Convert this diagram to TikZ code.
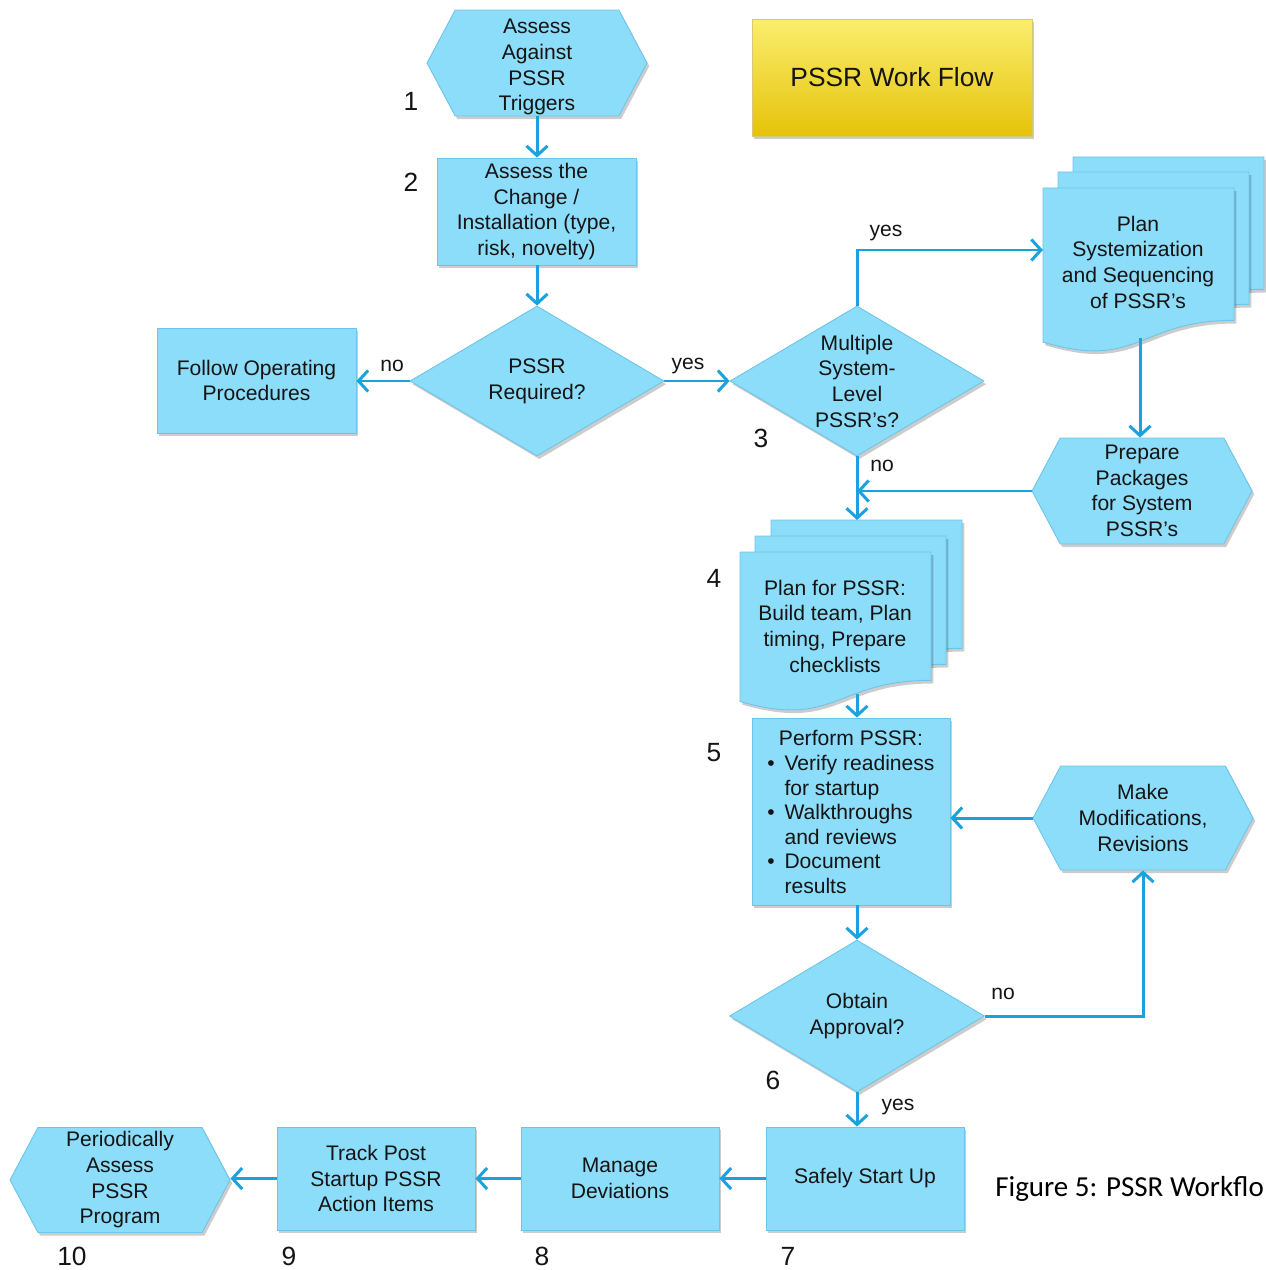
\documentclass[tikz,border=0pt]{standalone}
\usepackage{fontspec}
\setmainfont{Liberation Sans}
\newfontfamily\capfont{Carlito}
\usetikzlibrary{arrows.meta,shapes.geometric,shapes.symbols,shadows}
\definecolor{boxfill}{RGB}{140,221,250}
\definecolor{boxedge}{RGB}{110,196,232}
\definecolor{arrowc}{RGB}{27,161,222}
\definecolor{txtc}{RGB}{20,20,20}
\definecolor{ytop}{RGB}{250,238,110}
\definecolor{ybot}{RGB}{230,195,10}
\definecolor{yedge}{RGB}{215,200,120}
\tikzset{
 shad/.style={drop shadow={shadow xshift=1.3pt, shadow yshift=-1.8pt, opacity=0.2, fill=black}},
 base/.style={fill=boxfill, draw=boxedge, line width=0.5pt, shad, text=txtc, font=\fontsize{12}{14.6}\selectfont, align=center, inner sep=0pt},
 rectbox/.style={base, rectangle, minimum width=3.98cm, minimum height=2.1cm},
 hexbox/.style={base, signal, signal to=west and east, signal pointer angle=124, minimum width=4.4cm, minimum height=2.12cm},
 decbox/.style={base, diamond, aspect=1.69, minimum width=5.08cm, minimum height=3cm},
 docbox/.style={fill=boxfill, draw=boxedge, line width=0.5pt, shad},
 doctext/.style={text=txtc, font=\fontsize{12}{14.6}\selectfont, align=center, inner sep=0pt},
 titlebox/.style={rectangle, top color=ytop, bottom color=ybot, draw=yedge, line width=0.5pt, shad, minimum width=5.6cm, minimum height=2.34cm, text=txtc, font=\fontsize{15}{18}\selectfont, inner sep=0pt},
 conn/.style={draw=arrowc, line width=1.7pt, -{Straight Barb[length=5.5pt,width=12pt]}},
 lbl/.style={text=txtc, font=\fontsize{12}{14.3}\selectfont, inner sep=0pt},
 numlbl/.style={text=txtc, font=\fontsize{15}{18}\selectfont, inner sep=0pt},
}
\newcommand{\docshape}[4]{\path[docbox] (#1,#2) -- ({#1+#3},#2) -- ({#1+#3},{#2+0.802*#4}) .. controls ({#1+0.5*#3},{#2+0.802*#4}) and ({#1+0.5*#3},{#2+1.107*#4}) .. (#1,{#2+0.934*#4}) -- cycle;}
\begin{document}
\begin{tikzpicture}[x=0.02cm,y=-0.02cm]
\useasboundingbox (0,0) rectangle (1265,1270);
% title
\node[titlebox] (title) at (892,77.5) {PSSR Work Flow};
% nodes
\node[hexbox] (n1) at (537,63) {\rule{0pt}{13pt}Assess\\Against\\PSSR\\Triggers};
\node[rectbox, minimum height=2.14cm] (n2) at (536.5,211.5) {Assess the\\Change /\\Installation (type,\\risk, novelty)};
\node[decbox] (n3) at (537,381) {PSSR\\Required?};
\node[rectbox] (n4) at (256.5,380.5) {Follow Operating\\Procedures};
\node[decbox] (n5) at (857,381) {Multiple\\System-\\Level\\PSSR’s?};
% doc A
\docshape{1073}{157}{191}{165}
\docshape{1058}{172}{191}{165}
\docshape{1043}{188}{191}{165}
\node[doctext] (docA) at (1138,262) {Plan\\Systemization\\and Sequencing\\of PSSR’s};
\coordinate (docAw) at (1043,250);
\coordinate (docAs) at (1140,338);
\node[hexbox] (n7) at (1142,491) {Prepare\\Packages\\for System\\PSSR’s};
\coordinate (jn) at (857,491);
% doc B
\docshape{771}{520}{191}{160}
\docshape{755}{536}{191}{160}
\docshape{740}{552}{191}{160}
\node[doctext] (docB) at (835,626) {Plan for PSSR:\\Build team, Plan\\timing, Prepare\\checklists};
\coordinate (docBn) at (857,520);
\coordinate (docBs) at (857,694);
\node[rectbox, minimum width=3.96cm, minimum height=3.74cm] (n9) at (851,811.5) {\renewcommand{\arraystretch}{0.96}\begin{tabular}{@{}c@{\hspace{5.5pt}}l@{}}\multicolumn{2}{c}{\rule{0pt}{13.5pt}Perform PSSR:}\\ \textbullet & Verify readiness\\ & for startup\\ \textbullet & Walkthroughs\\ & and reviews\\ \textbullet & Document\\ & results\end{tabular}};
\node[hexbox, minimum height=2.08cm] (n10) at (1143,818) {Make\\Modifications,\\Revisions};
\node[decbox, minimum width=5.1cm, minimum height=3.04cm] (n11) at (857,1016) {Obtain\\Approval?};
\node[rectbox, minimum width=3.96cm, minimum height=2.06cm] (n12) at (865,1178.5) {Safely Start Up};
\node[rectbox, minimum width=3.96cm, minimum height=2.06cm] (n13) at (620,1178.5) {Manage\\Deviations};
\node[rectbox, minimum width=3.96cm, minimum height=2.06cm] (n14) at (376,1178.5) {Track Post\\Startup PSSR\\Action Items};
\node[hexbox, minimum height=2.1cm] (n15) at (120,1180) {Periodically\\Assess\\PSSR\\Program};
% number labels
\node[numlbl] (l1) at (411,101) {1};
\node[numlbl] (l2) at (411,182) {2};
\node[numlbl] (l3) at (761,438) {3};
\node[numlbl] (l4) at (714,578) {4};
\node[numlbl] (l5) at (714,753) {5};
\node[numlbl] (l6) at (773,1080) {6};
\node[numlbl] (l7) at (788,1256) {7};
\node[numlbl] (l8) at (542,1256) {8};
\node[numlbl] (l9) at (289,1256) {9};
\node[numlbl] (l10) at (72,1256) {10};
% connectors
\draw[conn] (n1.south) -- (n1.south |- n2.north);
\draw[conn] (n2.south -| n3.north) -- (n3.north);
\draw[conn] (n3.west) -- (n3.west -| n4.east);
\node[lbl] (no1) at (392,366) {no};
\draw[conn] (n3.east) -- (n5.west);
\node[lbl] (yes1) at (688,366) {yes};
\draw[conn] (n5.north) |- (docAw);
\node[lbl] (yes2) at (886,233) {yes};
\draw[conn] (docAs) -- (docAs |- n7.north);
\draw[conn] (n7.west) -- (jn);
\draw[conn] (n5.south) -- (docBn);
\node[lbl] (no2) at (882,466) {no};
\draw[conn] (docBs) -- (docBs |- n9.north);
\draw[conn] (n10.west) -- (n10.west -| n9.east);
\draw[conn] (n9.south -| n11.north) -- (n11.north);
\draw[conn] (n11.east) -| (n10.south);
\node[lbl] (no3) at (1003,994) {no};
\draw[conn] (n11.south) -- (n11.south |- n12.north);
\node[lbl] (yes3) at (898,1107) {yes};
\draw[conn] (n12.west) -- (n13.east);
\draw[conn] (n13.west) -- (n14.east);
\draw[conn] (n14.west) -- (n14.west -| n15.east);
% caption
\node[anchor=west, text=black, font=\capfont\fontsize{16.5}{20}\selectfont, inner sep=0pt] (cap) at (995,1189) {Figure 5: PSSR Workflo};
\end{tikzpicture}
\end{document}
